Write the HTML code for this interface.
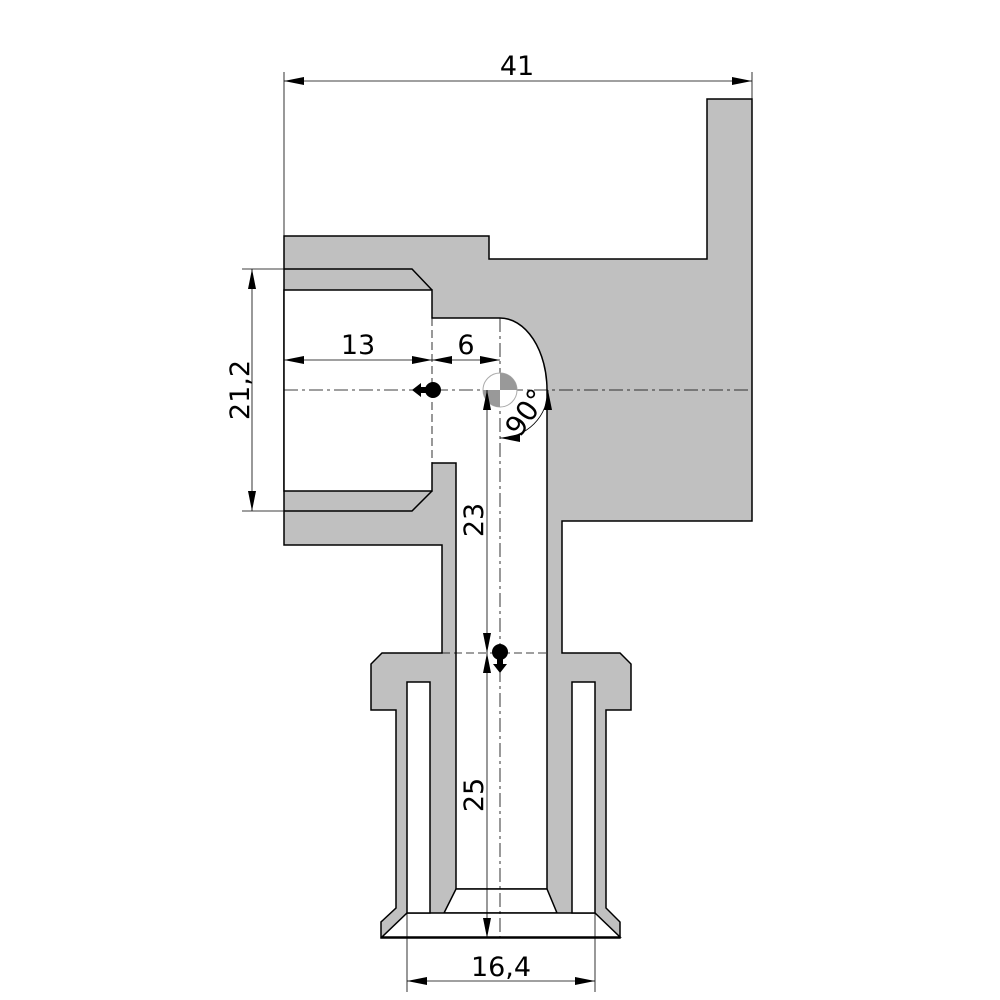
<!DOCTYPE html>
<html><head><meta charset="utf-8"><style>body{margin:0;background:#fff}svg{display:block}</style></head>
<body>
<svg width="1000" height="1000" viewBox="0 0 1000 1000" xmlns="http://www.w3.org/2000/svg" font-family="'DejaVu Sans','Liberation Sans',sans-serif">
<defs>
<marker id="a" viewBox="0 0 20 8" refX="20" refY="4" markerWidth="20" markerHeight="8" orient="auto-start-reverse" markerUnits="userSpaceOnUse"><path d="M0,0 L20,4 L0,8 z" fill="#000"/></marker>
</defs>
<g stroke="#000" stroke-width="1.5" stroke-linejoin="miter">
<path fill="#c0c0c0" d="M284,236 L489,236 L489,259 L707,259 L707,99 L752,99 L752,521 L562,521 L562,653 L620,653 L631,664 L631,710 L606,710 L606,908 L620,922 L620,938 L381,938 L381,922 L396,908 L396,710 L371,710 L371,664 L382,653 L442,653 L442,545 L284,545 Z"/>
<path fill="#fff" d="M284,290 L432,290 L432,318 L500,318 A47,72 0 0 1 547,390 L547,889 L456,889 L456,463 L432,463 L432,491 L284,491 Z"/>
<path fill="#fff" d="M456,889 L547,889 L557,913 L444,913 Z"/>
<path fill="#fff" d="M407,913 L595,913 L620,937 L382,937 Z"/>
<path fill="#fff" d="M407,682 L430,682 L430,913 L407,913 Z"/>
<path fill="#fff" d="M572,682 L595,682 L595,913 L572,913 Z"/>
<path fill="none" d="M284,269 L412,269 L432,290 M284,511 L412,511 L432,491"/>
</g>
<g stroke="#000" stroke-width="0.8" fill="none">
<path d="M284,390 L752,390" stroke-dasharray="14,4,3,4"/>
<path d="M500,318 L500,938" stroke-dasharray="14,4,3,4"/>
<path d="M432,318 L432,463" stroke-dasharray="8,4"/>
<path d="M442,653 L548,653" stroke-dasharray="8,4"/>
</g>
<circle cx="500" cy="390" r="17" fill="#fff" stroke="#aaa" stroke-width="1"/>
<path d="M500,390 L500,373 A17,17 0 0 1 517,390 Z M500,390 L500,407 A17,17 0 0 1 483,390 Z" fill="#999"/>
<circle cx="433" cy="390" r="8" fill="#000"/>
<path d="M412,390 L421,383 L421,397 Z M420,387 h8 v6 h-8z" fill="#000"/>
<circle cx="500" cy="652" r="8" fill="#000"/>
<path d="M500,673 L493,664 L507,664 Z M497,656 h6 v9 h-6z" fill="#000"/>
<g stroke="#000" stroke-width="0.8" fill="none">
<path d="M284,72 L284,236 M752,72 L752,99"/>
<path d="M284,81 L752,81" marker-start="url(#a)" marker-end="url(#a)"/>
<path d="M242,269 L284,269 M242,511 L284,511"/>
<path d="M252,269 L252,511" marker-start="url(#a)" marker-end="url(#a)"/>
<path d="M284,360 L432,360" marker-start="url(#a)" marker-end="url(#a)"/>
<path d="M432,360 L500,360" marker-start="url(#a)" marker-end="url(#a)"/>
<path d="M487,390 L487,653" marker-start="url(#a)" marker-end="url(#a)"/>
<path d="M487,653 L487,938" marker-start="url(#a)" marker-end="url(#a)"/>
<path d="M407,913 L407,992 M595,913 L595,992"/>
<path d="M407,981 L595,981" marker-start="url(#a)" marker-end="url(#a)"/>
<path d="M548,390 A48,48 0 0 1 500,438" marker-start="url(#a)" marker-end="url(#a)"/>
</g>
<g fill="#000" font-size="27" text-anchor="middle">
<text x="517" y="75">41</text>
<text x="358" y="354">13</text>
<text x="466" y="354">6</text>
<text x="501" y="976">16,4</text>
<text transform="translate(249,390) rotate(-90)">21,2</text>
<text transform="translate(483,520) rotate(-90)">23</text>
<text transform="translate(483,795) rotate(-90)">25</text>
<text transform="translate(534,418) rotate(-55)" font-size="28">90°</text>
</g>
</svg>
</body></html>
